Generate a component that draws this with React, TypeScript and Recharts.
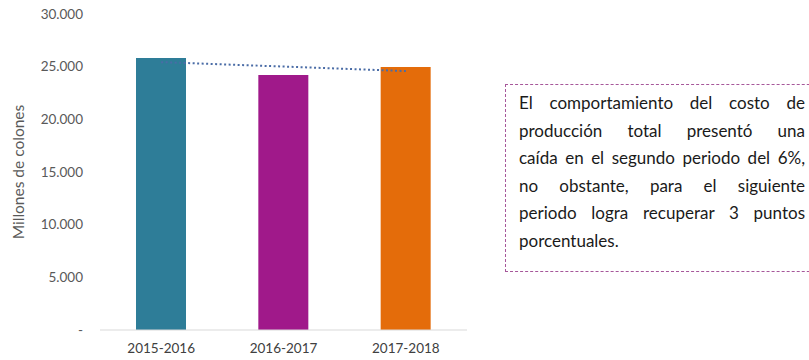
import { ComposedChart, Bar, Line, XAxis, YAxis, Cell, Label } from 'recharts';

const periods = ['2015-2016', '2016-2017', '2017-2018'];
const costo = [25830, 24210, 24980];
const tendencia = [25430, 25010, 24580];
const yTicks = [0, 5000, 10000, 15000, 20000, 25000, 30000];
const barColors = ['#2E7D98', '#A0198A', '#E46C0A'];

const nota = [
  'El comportamiento del costo de',
  'producción total presentó una',
  'caída en el segundo periodo del 6%,',
  'no obstante, para el siguiente',
  'periodo logra recuperar 3 puntos',
  'porcentuales.',
];

const data = periods.map((p, i) => ({ name: p, costo: costo[i], trend: tendencia[i] }));

const fmt = (v: number) => (v === 0 ? '-' : String(v).replace(/\B(?=(\d{3})+(?!\d))/g, '.'));

const FONT = 'Lato, "Open Sans", sans-serif';

export default function App() {
  return (
    <div style={{ position: 'absolute', left: 0, top: 0, width: 809, height: 360, overflow: 'hidden', background: '#fff', fontFamily: FONT }}>
      <ComposedChart width={480} height={360} data={data} margin={{ top: 14, right: 13, bottom: 0, left: 0 }}>
        <XAxis
          dataKey="name"
          height={30}
          axisLine={{ stroke: '#D9D9D9' }}
          tickLine={false}
          tickSize={0}
          tickMargin={13}
          tick={{ fill: '#404040', fontSize: 13.5, fontFamily: FONT }}
        />
        <YAxis
          width={100}
          domain={[0, 30000]}
          ticks={yTicks}
          axisLine={false}
          tickLine={false}
          tickSize={0}
          tickMargin={17}
          tickFormatter={fmt}
          tick={{ fill: '#595959', fontSize: 13.5, fontFamily: FONT }}
        >
          <Label
            content={() => (
              <text
                transform="translate(18,172) rotate(-90)"
                textAnchor="middle"
                dominantBaseline="central"
                fill="#595959"
                fontSize={15.5}
                fontFamily={FONT}
              >
                Millones de colones
              </text>
            )}
          />
        </YAxis>
        <Line
          dataKey="trend"
          type="linear"
          stroke="#4A6CA6"
          strokeWidth={2}
          strokeDasharray="2 2.5"
          dot={false}
          activeDot={false}
          isAnimationActive={false}
        />
        <Bar dataKey="costo" barSize={50} isAnimationActive={false}>
          {data.map((d, i) => (
            <Cell key={d.name} fill={barColors[i]} />
          ))}
        </Bar>
      </ComposedChart>
      <div
        style={{
          position: 'absolute',
          left: 505,
          top: 84,
          width: 340,
          height: 188,
          boxSizing: 'border-box',
          border: '1px dashed #A6579A',
          paddingTop: 4,
          paddingLeft: 13,
          color: '#1A1A1A',
          fontSize: 17,
          lineHeight: '27.5px',
        }}
      >
        {nota.map((line, i) => (
          <div
            key={i}
            style={{
              width: 286,
              textAlign: 'justify',
              textAlignLast: i < nota.length - 1 ? 'justify' : 'left',
              whiteSpace: 'nowrap',
            }}
          >
            {line}
          </div>
        ))}
      </div>
    </div>
  );
}
